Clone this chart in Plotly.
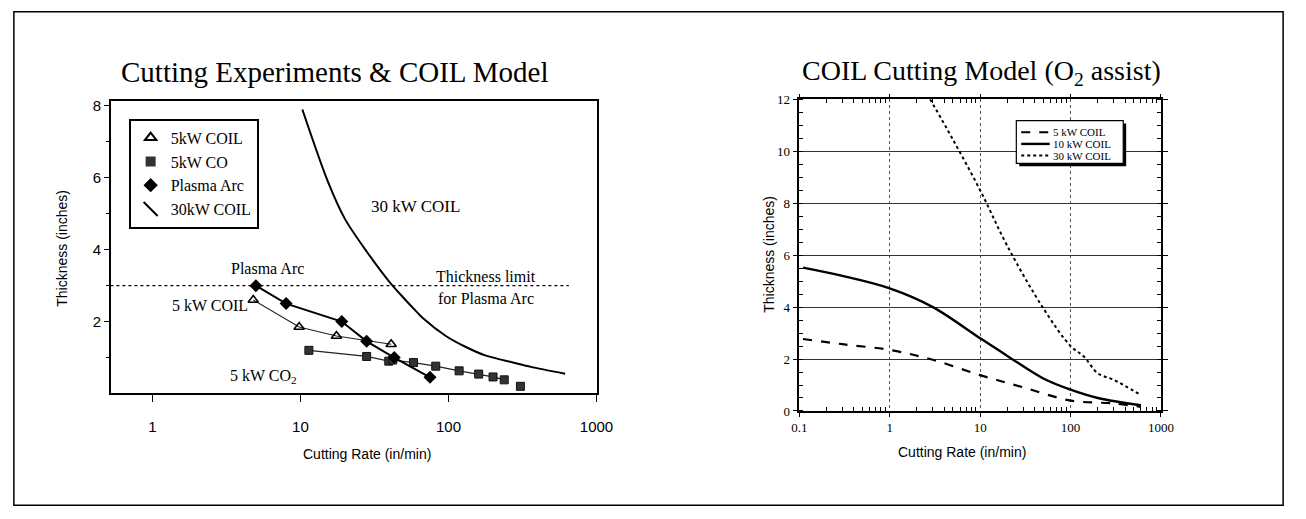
import plotly.graph_objects as go

W, H = 1306, 519

# ---------------- data: left chart (Cutting Experiments & COIL Model) ----------------
coil5_x = [4.8, 9.8, 17.5, 41]
coil5_y = [2.6, 1.85, 1.6, 1.37]

co2_x = [11.4, 28, 39.5, 42, 58, 82, 118, 160, 200, 238, 306]
co2_y = [1.2, 1.03, 0.9, 0.93, 0.86, 0.76, 0.63, 0.54, 0.46, 0.38, 0.2]

plasma_x = [5, 8, 19, 28, 43, 75]
plasma_y = [3.0, 2.5, 2.0, 1.45, 1.0, 0.45]

coil30_x = [10.3, 15.3, 20, 28, 40, 50, 61, 67, 96, 130, 177, 280, 360, 614]
coil30_y = [7.9, 5.9, 4.85, 3.95, 3.1, 2.65, 2.27, 2.1, 1.6, 1.3, 1.06, 0.85, 0.74, 0.55]

limit_x = [0.52, 650]
limit_y = [3.0, 3.0]

left_xticks = [1, 10, 100, 1000]
left_yticks = [2, 4, 6, 8]

# ---------------- data: right chart (COIL Cutting Model) ----------------
r5_x = [0.11, 0.3, 1, 3, 10, 30, 100, 300, 600]
r5_y = [2.77, 2.57, 2.35, 1.97, 1.38, 0.91, 0.4, 0.29, 0.16]

r10_x = [0.11, 0.3, 1, 3, 10, 20, 50, 100, 200, 600]
r10_y = [5.52, 5.2, 4.72, 4.0, 2.8, 2.12, 1.25, 0.82, 0.5, 0.22]

r30_x = [2.8, 5, 10, 20, 50, 100, 140, 200, 300, 580]
r30_y = [12, 10.45, 8.5, 6.35, 3.95, 2.5, 2.1, 1.45, 1.2, 0.64]

right_names = ["5 kW COIL", "10 kW COIL", "30 kW COIL"]
right_dashes = ["dash", "solid", "dot"]
right_widths = [2.2, 2.4, 2.0]

right_xticks = [0.1, 1, 10, 100, 1000]
right_xticktext = ["0.1", "1", "10", "100", "1000"]
right_yticks = [0, 2, 4, 6, 8, 10, 12]


def px(x):
    return x / W


def py(y):
    return 1 - y / H


SERIF = "Liberation Serif, Times New Roman, serif"
SANS = "Liberation Sans, Arial, sans-serif"

fig = go.Figure()

# ---- left chart traces ----
fig.add_trace(go.Scatter(x=limit_x, y=limit_y, mode="lines", xaxis="x", yaxis="y",
                         line=dict(color="black", width=1.2, dash="dot"), showlegend=False))
fig.add_trace(go.Scatter(x=coil30_x, y=coil30_y, mode="lines", xaxis="x", yaxis="y",
                         line=dict(color="black", width=2, shape="spline", smoothing=0.8),
                         showlegend=False))
fig.add_trace(go.Scatter(x=co2_x[:10], y=co2_y[:10], mode="lines", xaxis="x", yaxis="y",
                         line=dict(color="#222", width=1.3), showlegend=False))
fig.add_trace(go.Scatter(x=co2_x, y=co2_y, mode="markers", xaxis="x", yaxis="y",
                         marker=dict(symbol="square", size=8, color="#333",
                                     line=dict(color="#111", width=1)),
                         showlegend=False))
fig.add_trace(go.Scatter(x=coil5_x, y=coil5_y, mode="lines+markers", xaxis="x", yaxis="y",
                         line=dict(color="#222", width=1.1),
                         marker=dict(symbol="triangle-up-open", size=9, color="black",
                                     line=dict(width=1.6)),
                         showlegend=False))
fig.add_trace(go.Scatter(x=plasma_x, y=plasma_y, mode="lines+markers", xaxis="x", yaxis="y",
                         line=dict(color="black", width=2),
                         marker=dict(symbol="diamond", size=10, color="black"),
                         showlegend=False))

# left legend entries (symbols only)
fig.add_trace(go.Scatter(x=[None], y=[None], mode="markers", xaxis="x", yaxis="y",
                         name="5kW COIL", legend="legend",
                         marker=dict(symbol="triangle-up-open", size=10, color="black",
                                     line=dict(width=2))))
fig.add_trace(go.Scatter(x=[None], y=[None], mode="markers", xaxis="x", yaxis="y",
                         name="5kW CO", legend="legend",
                         marker=dict(symbol="square", size=10, color="#333")))
fig.add_trace(go.Scatter(x=[None], y=[None], mode="markers", xaxis="x", yaxis="y",
                         name="Plasma Arc", legend="legend",
                         marker=dict(symbol="diamond", size=11, color="black")))
fig.add_trace(go.Scatter(x=[None], y=[None], mode="markers", xaxis="x", yaxis="y",
                         name="30kW COIL", legend="legend",
                         marker=dict(symbol="line-nw", size=14, color="black",
                                     line=dict(width=2, color="black"))))

# ---- right chart traces ----
for xs, ys, nm, dsh, wd in zip([r5_x, r10_x, r30_x], [r5_y, r10_y, r30_y],
                               right_names, right_dashes, right_widths):
    fig.add_trace(go.Scatter(x=xs, y=ys, mode="lines", xaxis="x2", yaxis="y2",
                             name=nm, showlegend=False,
                             line=dict(color="black", width=wd, dash=dsh, shape="spline")))

# ---- axes ----
lx0, lx1, ly0, ly1 = 105, 600, 97, 398
rx0, rx1, ry0, ry1 = 806.7, 1175.5, 95, 416

minor_log = [m * 10 ** e for e in range(-1, 3) for m in range(2, 10)]

fig.update_layout(
    width=W, height=H,
    margin=dict(l=0, r=0, t=0, b=0),
    paper_bgcolor="white", plot_bgcolor="white",
    xaxis=dict(type="log", domain=[px(lx0), px(lx1)], range=[-0.28, 3.0],
               anchor="y", showline=True, linecolor="black", linewidth=2, mirror=True,
               tickvals=left_xticks, ticktext=[str(v) for v in left_xticks],
               ticks="outside", ticklen=7, tickcolor="black", showgrid=False, zeroline=False,
               ticklabelstandoff=12,
               tickfont=dict(family=SANS, size=15, color="black")),
    yaxis=dict(domain=[py(ly1), py(ly0)], range=[0, 8.13], anchor="x",
               showline=True, linecolor="black", linewidth=2, mirror=True,
               tickvals=left_yticks, ticks="outside", ticklen=5, tickcolor="black",
               minor=dict(tickvals=[1, 3, 5, 7], ticks="outside", ticklen=3, tickcolor="black"),
               showgrid=False, zeroline=False,
               tickfont=dict(family=SANS, size=15, color="black")),
    xaxis2=dict(type="log", domain=[px(rx0), px(rx1)], range=[-1, 3], anchor="y2",
                showline=True, linecolor="black", linewidth=1.5, mirror="allticks",
                tickvals=right_xticks, ticktext=right_xticktext,
                ticks="outside", ticklen=4, tickcolor="black",
                minor=dict(tickvals=minor_log, ticks="inside", ticklen=4, tickcolor="black",
                           showgrid=False),
                showgrid=True, gridcolor="#555", griddash="dot", gridwidth=1, zeroline=False,
                tickfont=dict(family=SERIF, size=13, color="black")),
    yaxis2=dict(domain=[py(ry1), py(ry0)], range=[0, 12], anchor="x2",
                showline=True, linecolor="black", linewidth=1.5, mirror="allticks",
                tickvals=right_yticks, ticks="outside", ticklen=5, tickcolor="black",
                minor=dict(dtick=0.5, ticks="inside", ticklen=4, tickcolor="black",
                           showgrid=False),
                showgrid=True, gridcolor="#333", gridwidth=1.2, zeroline=False,
                tickfont=dict(family=SERIF, size=13, color="black")),
    legend=dict(x=px(123), y=py(115), xanchor="left", yanchor="top",
                bgcolor="white", bordercolor="black", borderwidth=2,
                font=dict(family=SERIF, size=16, color="black"),
                tracegroupgap=0, itemwidth=30),
    showlegend=True,
)

# ---- text annotations ----
ann = []
ann.append(dict(text="Cutting Experiments &amp; COIL Model", x=px(333), y=py(67),
                font=dict(family=SERIF, size=29, color="black")))
ann.append(dict(text="COIL Cutting Model (O<sub>2</sub> assist)", x=px(993), y=py(67),
                font=dict(family=SERIF, size=28, color="black")))
ann.append(dict(text="30 kW COIL", x=px(415), y=py(205), font=dict(family=SERIF, size=17)))
ann.append(dict(text="Plasma Arc", x=px(265), y=py(269), font=dict(family=SERIF, size=16)))
ann.append(dict(text="Thickness limit", x=px(487), y=py(278), font=dict(family=SERIF, size=16)))
ann.append(dict(text="for Plasma Arc", x=px(487), y=py(300), font=dict(family=SERIF, size=16)))
ann.append(dict(text="5 kW COIL", x=px(247), y=py(307), xanchor="right",
                font=dict(family=SERIF, size=16)))
ann.append(dict(text="5 kW CO<sub>2</sub>", x=px(260), y=py(381), font=dict(family=SERIF, size=16)))
ann.append(dict(text="Cutting Rate (in/min)", x=px(366), y=py(460), font=dict(family=SANS, size=14)))
ann.append(dict(text="Cutting Rate (in/min)", x=px(973), y=py(458), font=dict(family=SANS, size=14)))
ann.append(dict(text="Thickness (inches)", x=px(55), y=py(248), textangle=-90,
                font=dict(family=SANS, size=14)))
ann.append(dict(text="Thickness (inches)", x=px(775), y=py(255), textangle=-90,
                font=dict(family=SANS, size=14)))

# right chart legend (box with drop shadow, line keys, labels)
lg_x0, lg_y0, lg_x1, lg_y1 = 1028, 117, 1137, 161
lg_rows = [129, 141, 153]
shapes = [
    dict(type="rect", xref="paper", yref="paper", x0=px(6), x1=px(1300), y0=py(513), y1=py(5),
         line=dict(color="black", width=1.5), fillcolor="rgba(0,0,0,0)", layer="below"),
    dict(type="rect", xref="paper", yref="paper", x0=px(lg_x0 + 3), x1=px(lg_x1 + 3),
         y0=py(lg_y1 + 3), y1=py(lg_y0 + 3), line=dict(width=0), fillcolor="black", layer="above"),
    dict(type="rect", xref="paper", yref="paper", x0=px(lg_x0), x1=px(lg_x1),
         y0=py(lg_y1), y1=py(lg_y0), line=dict(color="black", width=1.2), fillcolor="white",
         layer="above"),
]
for yy, nm, dsh, wd in zip(lg_rows, right_names, right_dashes, right_widths):
    shapes.append(dict(type="line", xref="paper", yref="paper", x0=px(lg_x0 + 5), x1=px(lg_x0 + 34),
                       y0=py(yy), y1=py(yy), line=dict(color="black", width=wd, dash=dsh),
                       layer="above"))
    ann.append(dict(text=nm, x=px(lg_x0 + 35), y=py(yy), xanchor="left",
                    font=dict(family=SERIF, size=11)))

for a in ann:
    a.setdefault("xanchor", "center")
    a.update(xref="paper", yref="paper", yanchor="middle", showarrow=False)
    a["font"].setdefault("color", "black")
fig.update_layout(annotations=ann, shapes=shapes)

fig.write_html("out.html", config={"displayModeBar": False},
               post_script="document.body.style.margin='0';document.body.style.padding='0';")
